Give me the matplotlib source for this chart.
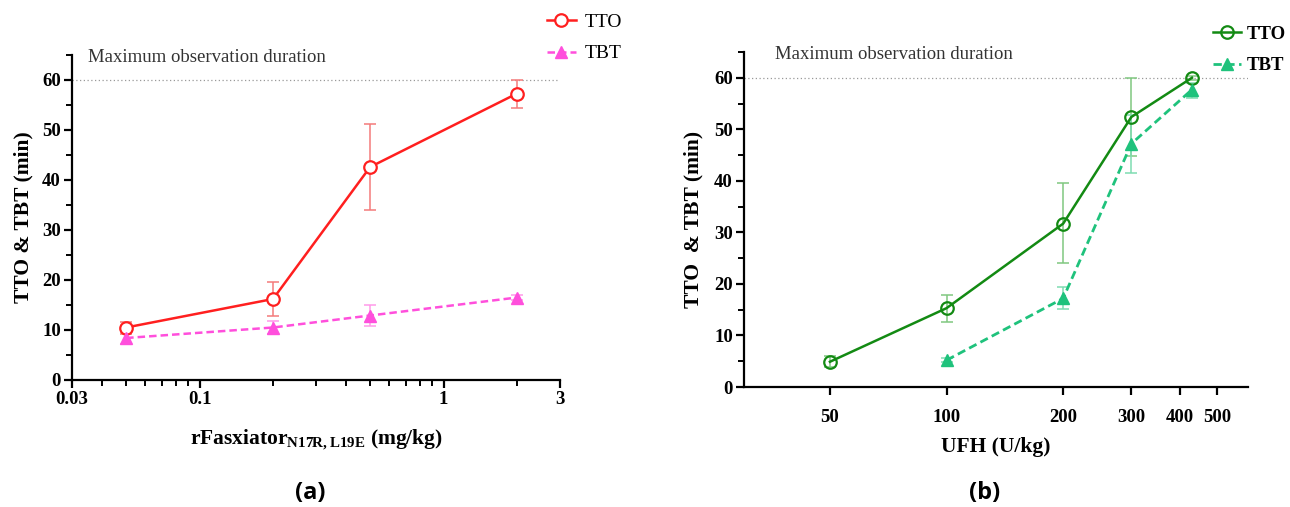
import matplotlib
matplotlib.use("Agg")
import matplotlib.pyplot as plt
from matplotlib.ticker import FixedLocator, NullFormatter, MultipleLocator, LogLocator

# ---------------- data ----------------
dose_a = [0.05, 0.2, 0.5, 2.0]
tto_a = [10.5, 16.2, 42.6, 57.3]
tto_a_lo = [9.3, 12.8, 34.0, 54.5]
tto_a_hi = [11.7, 19.6, 51.3, 60.0]
tbt_a = [8.4, 10.5, 12.9, 16.5]
tbt_a_lo = [7.2, 9.2, 10.9, 16.0]
tbt_a_hi = [9.6, 11.8, 15.0, 17.0]

dose_b_tto = [50, 100, 200, 300, 430]
tto_b = [4.9, 15.3, 31.7, 52.4, 60.0]
tto_b_lo = [3.8, 12.7, 24.0, 44.8, 59.6]
tto_b_hi = [6.1, 17.9, 39.5, 60.0, 60.4]
dose_b_tbt = [100, 200, 300, 430]
tbt_b = [5.2, 17.2, 47.2, 57.7]
tbt_b_lo = [4.8, 15.2, 41.5, 56.0]
tbt_b_hi = [5.6, 19.4, 52.8, 59.0]

xticks_a = [0.03, 0.1, 1, 3]
xticklabels_a = ["0.03", "0.1", "1", "3"]
xticks_b = [50, 100, 200, 300, 400, 500]
xticklabels_b = ["50", "100", "200", "300", "400", "500"]
yticks = [0, 10, 20, 30, 40, 50, 60]
max_obs = 60

serif = ["Liberation Serif", "DejaVu Serif"]
plt.rcParams['font.family'] = serif

fig = plt.figure(figsize=(12.9, 5.07), dpi=100)
W, H = 1290, 507

def make_ax(l, r, b, t):
    return fig.add_axes([l / W, 1 - b / H, (r - l) / W, (b - t) / H])

ax_a = make_ax(72, 560, 380, 55)
ax_b = make_ax(744, 1248, 387, 52)

def style(ax):
    for s in ["top", "right"]:
        ax.spines[s].set_visible(False)
    for s in ["left", "bottom"]:
        ax.spines[s].set_linewidth(1.6)
    ax.set_ylim(0, 65)
    ax.set_yticks(yticks)
    ax.yaxis.set_minor_locator(MultipleLocator(5))
    ax.tick_params(axis="both", which="major", length=6, width=1.6, direction="out",
                   labelsize=13.5, pad=2)
    ax.tick_params(axis="both", which="minor", length=4, width=1.4, direction="out")
    for lab in ax.get_yticklabels() + ax.get_xticklabels():
        lab.set_fontweight("bold")
    ax.axhline(max_obs, color="#999999", lw=0.9, ls=(0, (1, 2)), zorder=0)

def errbars(ax, x, y, lo, hi, color):
    yerr = [[yy - l for yy, l in zip(y, lo)], [h - yy for yy, h in zip(y, hi)]]
    ax.errorbar(x, y, yerr=yerr, fmt="none", ecolor=color, elinewidth=1.1,
                capsize=4, capthick=1.1, zorder=2)

# ---------------- panel a ----------------
ax = ax_a
ax.set_xscale("log")
ax.set_xlim(0.03, 3)
red, red_err = "#ff1f1f", "#f47a7a"
mag, mag_err = "#ff4fdc", "#ff9ae9"
errbars(ax, dose_a, tto_a, tto_a_lo, tto_a_hi, red_err)
errbars(ax, dose_a, tbt_a, tbt_a_lo, tbt_a_hi, mag_err)
l1, = ax.plot(dose_a, tto_a, color=red, lw=1.8, marker="o", ms=9, mfc="white",
              mec=red, mew=1.6, zorder=3, label="TTO")
l2, = ax.plot(dose_a, tbt_a, color=mag, lw=1.8, ls=(0, (3, 1.6)), marker="^", ms=8,
              mfc=mag, mec=mag, zorder=3, label="TBT")
ax.xaxis.set_major_locator(FixedLocator(xticks_a))
ax.set_xticklabels(xticklabels_a)
ax.xaxis.set_minor_locator(LogLocator(base=10, subs=range(2, 10), numticks=20))
ax.xaxis.set_minor_formatter(NullFormatter())
style(ax)
ax.text(0.035, 64.5, "Maximum observation duration", fontsize=13.5, color="#333333",
        va="center", ha="left")
ax.set_xlabel(r"rFasxiator$_{\mathregular{N17R,L19E}}$ (mg/kg)", fontsize=15.5,
              fontweight="bold", labelpad=14)
ax.set_ylabel("TTO & TBT (min)", fontsize=15.5, fontweight="bold", labelpad=6)
ax.legend(handles=[l1, l2], loc="center left", bbox_to_anchor=(529 / W, 1 - 38 / H),
          bbox_transform=fig.transFigure, frameon=False, fontsize=14,
          handlelength=1.5, labelspacing=0.7, handletextpad=0.45)

# ---------------- panel b ----------------
ax = ax_b
ax.set_xscale("log")
ax.set_xlim(30, 600)
grn, grn_err = "#138a13", "#80c880"
teal, teal_err = "#1fc27c", "#7fdcb2"
errbars(ax, dose_b_tto, tto_b, tto_b_lo, tto_b_hi, grn_err)
errbars(ax, dose_b_tbt, tbt_b, tbt_b_lo, tbt_b_hi, teal_err)
m1, = ax.plot(dose_b_tto, tto_b, color=grn, lw=1.8, marker="o", ms=9, mfc="none",
              mec=grn, mew=1.6, zorder=3, label="TTO")
m2, = ax.plot(dose_b_tbt, tbt_b, color=teal, lw=2.0, ls=(0, (3, 1.6)), marker="^", ms=8,
              mfc=teal, mec=teal, zorder=3, label="TBT")
ax.xaxis.set_major_locator(FixedLocator(xticks_b))
ax.set_xticklabels(xticklabels_b)
ax.xaxis.set_minor_locator(FixedLocator([]))
style(ax)
ax.tick_params(axis="x", which="major", pad=10)
ax.text(36, 64.5, "Maximum observation duration", fontsize=13.5, color="#333333",
        va="center", ha="left")
ax.set_xlabel("UFH (U/kg)", fontsize=15.5, fontweight="bold", labelpad=8)
ax.set_ylabel("TTO  & TBT (min)", fontsize=15.5, fontweight="bold", labelpad=8)
leg = ax.legend(handles=[m1, m2], loc="center left", bbox_to_anchor=(1196 / W, 1 - 50 / H),
                bbox_transform=fig.transFigure, frameon=False, fontsize=13.5,
                handlelength=1.5, labelspacing=0.75, handletextpad=0.3)
for t in leg.get_texts():
    t.set_fontweight("bold")

# panel titles
fig.text(310 / W, 1 - 493 / H, "(a)", fontsize=17, fontweight="bold",
         family=["Open Sans", "DejaVu Sans"], ha="center", va="center")
fig.text(985 / W, 1 - 493 / H, "(b)", fontsize=17, fontweight="bold",
         family=["Open Sans", "DejaVu Sans"], ha="center", va="center")

fig.savefig("out.png", dpi=100)
